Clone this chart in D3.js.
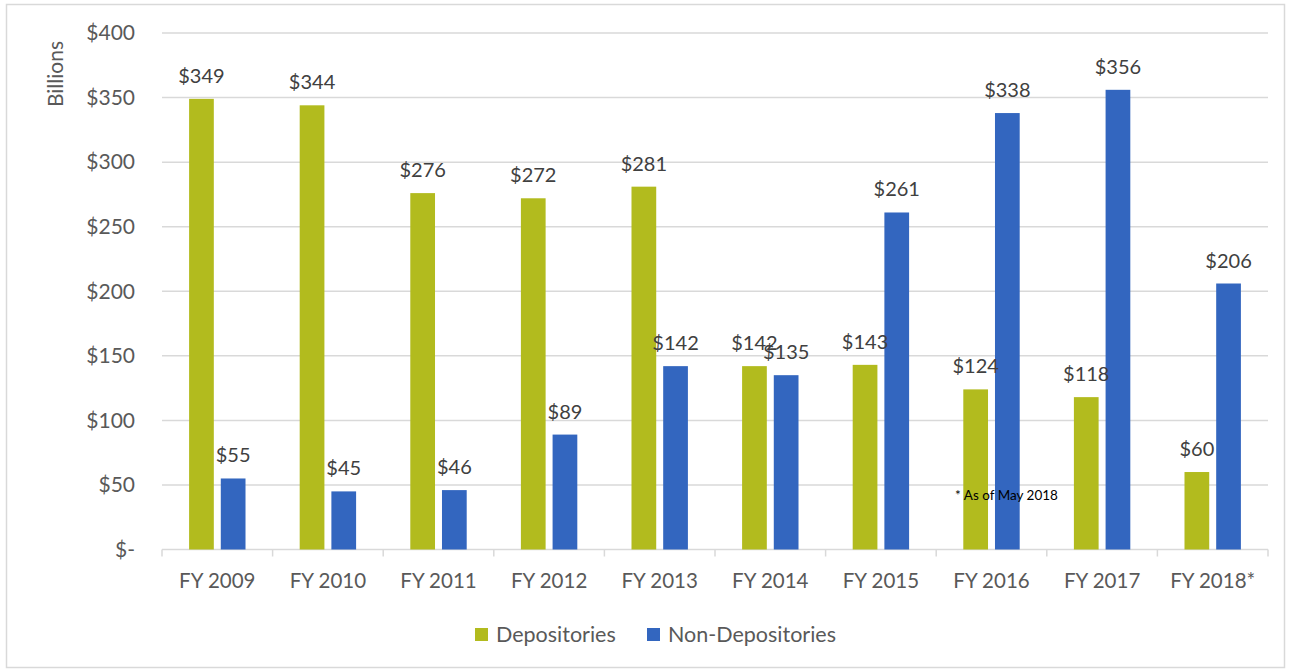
<!DOCTYPE html>
<html>
<head>
<meta charset="utf-8">
<script src="https://cdn.jsdelivr.net/npm/d3@7"></script>
<style>
  body { margin: 0; background: #fff; }
  text { font-family: Lato, "Open Sans", sans-serif; }
</style>
</head>
<body>
<svg id="chart" width="1291" height="671"></svg>
<script>
const years = ["FY 2009", "FY 2010", "FY 2011", "FY 2012", "FY 2013",
  "FY 2014", "FY 2015", "FY 2016", "FY 2017", "FY 2018*"];
const seriesNames = ["Depositories", "Non-Depositories"];
const depositories = [349, 344, 276, 272, 281, 142, 143, 124, 118, 60];
const nonDepositories = [55, 45, 46, 89, 142, 135, 261, 338, 356, 206];
const yTicks = [0, 50, 100, 150, 200, 250, 300, 350, 400];
const colors = ["#b2bb1e", "#3366bf"];

const svg = d3.select("#chart");
const width = 1291, height = 671;

// chart frame
svg.append("rect")
  .attr("x", 6.5).attr("y", 4.5)
  .attr("width", width - 13).attr("height", height - 8)
  .attr("fill", "#fff").attr("stroke", "#d9d9d9").attr("stroke-width", 1.5);

const plotLeft = 162, plotRight = 1268, plotTop = 33, plotBottom = 549.5;

let x0 = d3.scaleBand()
  .domain(years)
  .range([plotLeft, plotRight])
  .paddingInner(0.49)
  .paddingOuter(0.245);

let x1 = d3.scaleBand()
  .domain(seriesNames)
  .range([0, x0.bandwidth()])
  .paddingInner(0.22);

let y = d3.scaleLinear().domain([0, 400]).range([plotBottom, plotTop]);

// gridlines
svg.append("g")
  .selectAll("line")
  .data(yTicks.filter(d => d > 0))
  .enter()
  .append("line")
  .attr("x1", plotLeft).attr("x2", plotRight)
  .attr("y1", d => y(d)).attr("y2", d => y(d))
  .attr("stroke", "#d9d9d9").attr("stroke-width", 1.5);

// y tick labels
svg.append("g")
  .selectAll("text")
  .data(yTicks)
  .enter()
  .append("text")
  .attr("x", 135)
  .attr("y", d => y(d))
  .attr("dy", "0.35em")
  .attr("text-anchor", "end")
  .attr("font-size", 21)
  .attr("fill", "#595959")
  .text(d => d === 0 ? "$-" : "$" + d);

// y axis title
svg.append("text")
  .attr("transform", "translate(56,74) rotate(-90)")
  .attr("text-anchor", "middle")
  .attr("dy", "0.35em")
  .attr("font-size", 21)
  .attr("fill", "#595959")
  .text("Billions");

// x axis
let xAxis = svg.append("g")
  .attr("transform", `translate(0,${plotBottom})`);
xAxis.append("line")
  .attr("x1", plotLeft).attr("x2", plotRight)
  .attr("stroke", "#d9d9d9").attr("stroke-width", 1.5);
const step = x0.step();
xAxis.selectAll("line.tick")
  .data(d3.range(years.length + 1))
  .enter()
  .append("line")
  .attr("class", "tick")
  .attr("x1", i => plotLeft + i * step).attr("x2", i => plotLeft + i * step)
  .attr("y1", 0).attr("y2", 7)
  .attr("stroke", "#d9d9d9").attr("stroke-width", 1.5);
xAxis.selectAll("text")
  .data(years)
  .enter()
  .append("text")
  .attr("x", d => x0(d) + x0.bandwidth() / 2)
  .attr("y", 31)
  .attr("dy", "0.35em")
  .attr("text-anchor", "middle")
  .attr("font-size", 20.5)
  .attr("fill", "#595959")
  .text(d => d);

// bars
const rows = years.map((yr, i) => ({
  year: yr,
  values: [
    { name: seriesNames[0], value: depositories[i] },
    { name: seriesNames[1], value: nonDepositories[i] }
  ]
}));

let groups = svg.append("g")
  .selectAll("g")
  .data(rows)
  .enter()
  .append("g")
  .attr("transform", d => `translate(${x0(d.year)},0)`);

groups.selectAll("rect")
  .data(d => d.values)
  .enter()
  .append("rect")
  .attr("x", d => x1(d.name))
  .attr("y", d => y(d.value))
  .attr("width", x1.bandwidth())
  .attr("height", d => plotBottom - y(d.value))
  .attr("fill", (d, i) => colors[i]);

groups.selectAll("text")
  .data(d => d.values)
  .enter()
  .append("text")
  .attr("x", d => x1(d.name) + x1.bandwidth() / 2)
  .attr("y", d => y(d.value) - 16)
  .attr("text-anchor", "middle")
  .attr("font-size", 20)
  .attr("fill", "#404040")
  .text(d => "$" + d.value);

// footnote
svg.append("text")
  .attr("x", 955).attr("y", 495)
  .attr("dy", "0.35em")
  .attr("font-size", 13.5)
  .attr("fill", "#000")
  .text("* As of May 2018");

// legend
const legendX = [475, 647];
let legend = svg.append("g")
  .selectAll("g")
  .data(seriesNames)
  .enter()
  .append("g")
  .attr("transform", (d, i) => `translate(${legendX[i]},628)`);
legend.append("rect")
  .attr("width", 13).attr("height", 13)
  .attr("fill", (d, i) => colors[i]);
legend.append("text")
  .attr("x", 21).attr("y", 6.5)
  .attr("dy", "0.35em")
  .attr("font-size", 21.5)
  .attr("fill", "#595959")
  .text(d => d);
</script>
</body>
</html>
